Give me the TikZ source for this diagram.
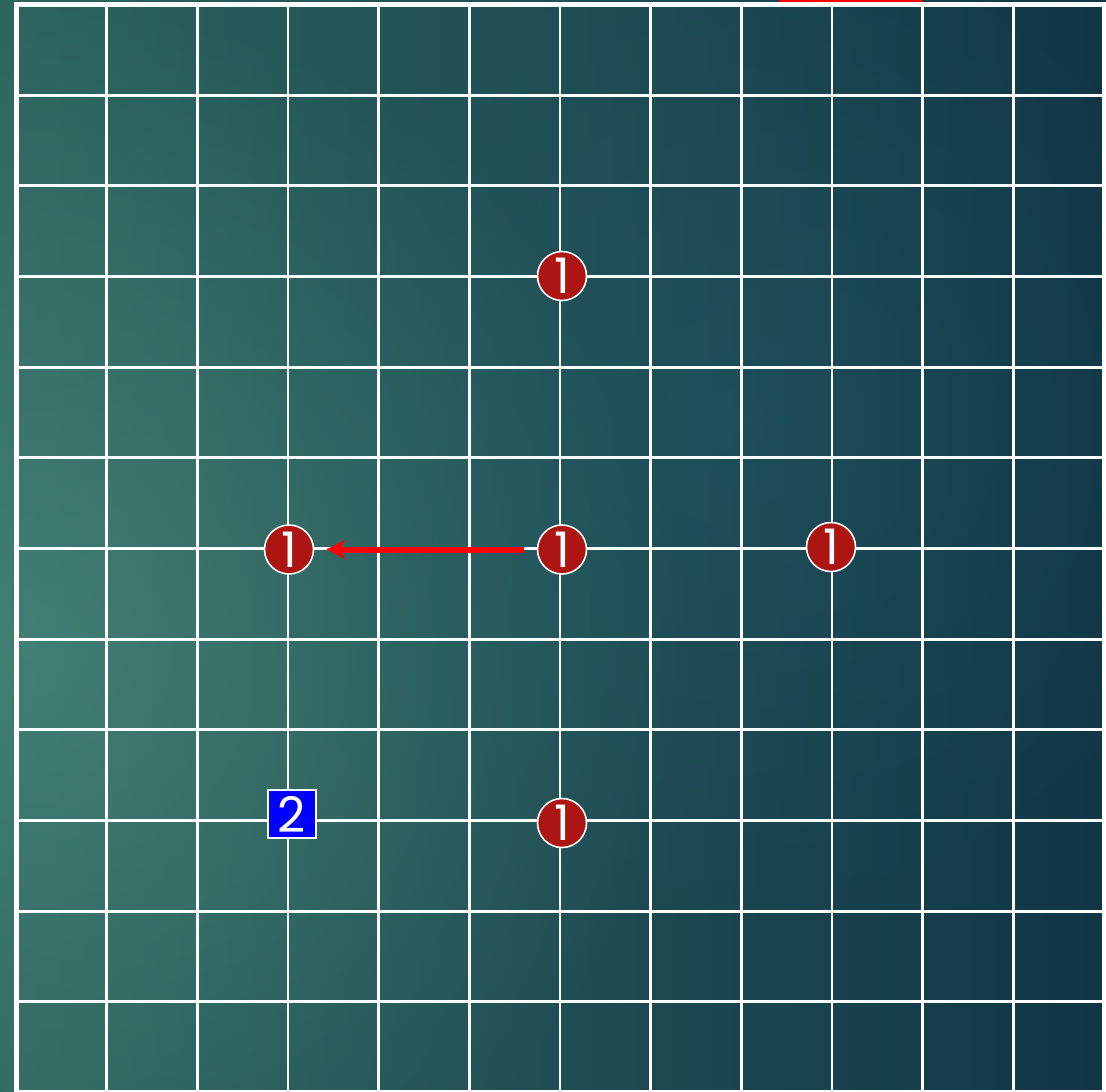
\documentclass[tikz,border=0pt]{standalone}
\usepackage{fontspec}
\newfontfamily\digitfont{Poppins}
\usetikzlibrary{arrows.meta,fadings}
\definecolor{bgL}{HTML}{2C645F}
\definecolor{bgM}{HTML}{24555A}
\definecolor{bgR}{HTML}{113647}
\definecolor{glowc}{HTML}{5A9A88}
\definecolor{glowb}{HTML}{2A6A7A}
\definecolor{stonered}{HTML}{AD1512}
\definecolor{movered}{HTML}{FF0000}
\definecolor{markblue}{HTML}{0000FF}
\tikzfading[name=glowfade, inner color=transparent!50, outer color=transparent!100]
\tikzfading[name=glowfadeb, inner color=transparent!75, outer color=transparent!100]
\begin{document}
\begin{tikzpicture}[x=1pt,y=-1pt,
  gridline/.style={white, line width=2.8pt},
  frameline/.style={white, line width=5pt},
  stone/.style={circle, fill=stonered, draw=white, line width=1.6pt, minimum size=49pt, inner sep=0pt, text=white, font=\digitfont\fontsize{49}{49}\selectfont},
  marker/.style={rectangle, fill=markblue, draw=white, line width=1.5pt, minimum size=48pt, inner sep=0pt, text=white, font=\digitfont\fontsize{49}{49}\selectfont},
  movearrow/.style={movered, line width=6pt, -{Stealth[length=19pt,width=19pt,inset=6pt]}, shorten <=13pt, shorten >=12pt}
]
\useasboundingbox (0,0) rectangle (1106,1092);
\begin{scope}
\clip (0,0) rectangle (1106,1092);
\shade[left color=bgL, middle color=bgM, right color=bgR] (0,0) rectangle (1106,1092);
\fill[glowc, path fading=glowfade] (30,650) circle (660);
\fill[glowb, path fading=glowfadeb] (740,420) circle (520);
% grid
\foreach \k in {1,...,11} {
  \draw[gridline] ({16+\k*90.67},4.5) -- ({16+\k*90.67},1092.5);
  \draw[gridline] (16,{4.5+\k*90.67}) -- (1104,{4.5+\k*90.67});
}
\draw[frameline] (16,4.5) rectangle (1104,1092.5);
\draw[movered, line width=1.6pt] (779,0.8) -- (922,0.8);
\end{scope}
% stones
\node[stone] (s0) at (562,276) {1};
\node[stone] (s1) at (289,549.5) {1};
\node[stone] (s2) at (562,549.5) {1};
\node[stone] (s3) at (831,547) {1};
\node[stone] (s4) at (562,823) {1};
\node[marker] (m2) at (292,814) {2};
\draw[movearrow] (s2) -- (s1);
\end{tikzpicture}
\end{document}
